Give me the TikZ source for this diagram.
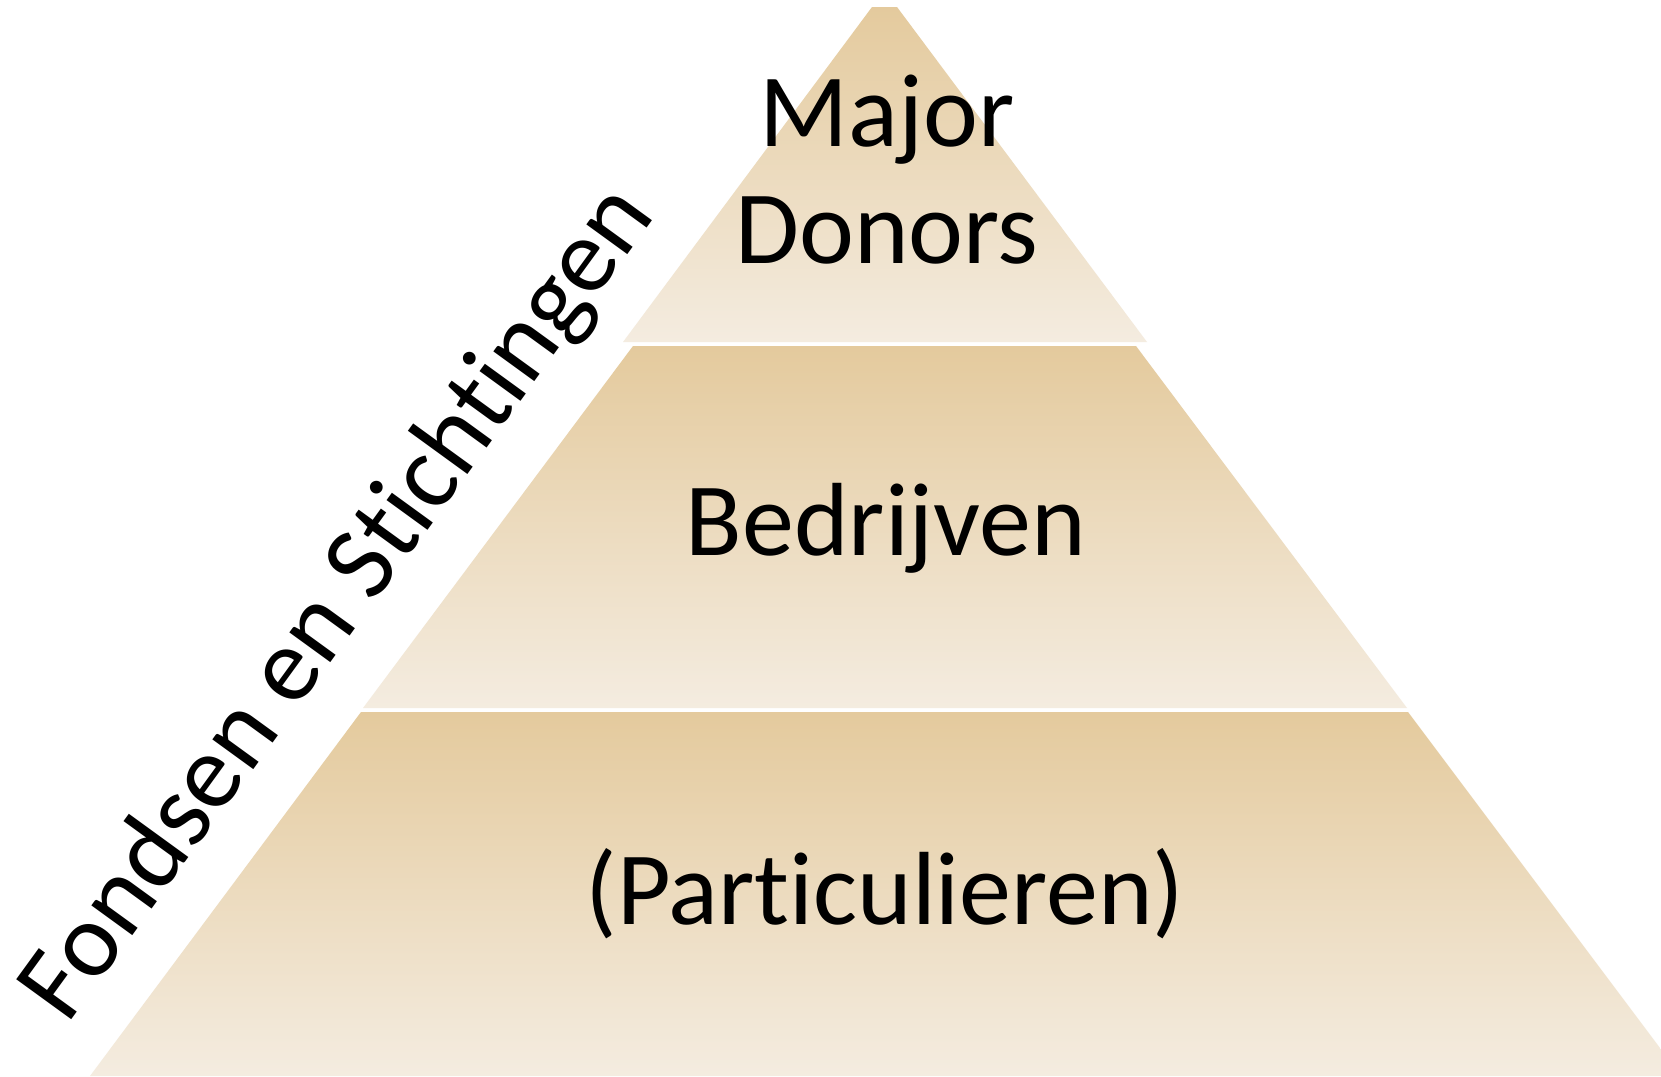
\documentclass[tikz,border=0pt]{standalone}
\usepackage{fontspec}
\setmainfont{Carlito}[Ligatures={NoCommon,NoRequired,NoContextual}]
\begin{document}
\begin{tikzpicture}[x=1pt,y=-1pt,
  tier/.style={top color=tierTop,bottom color=tierBot,draw=none},
  lbl/.style={inner sep=0pt,anchor=base,font=\fontsize{104}{117}\selectfont,text=black}]
\definecolor{tierTop}{HTML}{E4CA9D}
\definecolor{tierBot}{HTML}{F4ECE0}
\useasboundingbox (0,0) rectangle (1661,1076);
\clip (0,0) rectangle (1661,1076);
\fill[white] (0,0) rectangle (1661,1076);
% tiers
\path[tier] (872,7) -- (897,7) -- (1147,342) -- (623,342) -- cycle;
\path[tier] (633,346) -- (1136,346) -- (1407,708) -- (363,708) -- cycle;
\path[tier] (361,712) -- (1408,712) -- (1681,1076) -- (90,1076) -- cycle;
% labels
\node[lbl] (major) at (887,146) {Major};
\node[lbl] (donors) at (887,263) {Donors};
\node[lbl] (bedrijven) at (886,555) {Bedrijven};
\node[lbl] (particulieren) at (885,924) {(Particulieren)};
\node[lbl,rotate=54,font=\fontsize{106}{117}\selectfont] (fondsen) at (362,620) {Fondsen en Stichtingen};
\end{tikzpicture}
\end{document}
